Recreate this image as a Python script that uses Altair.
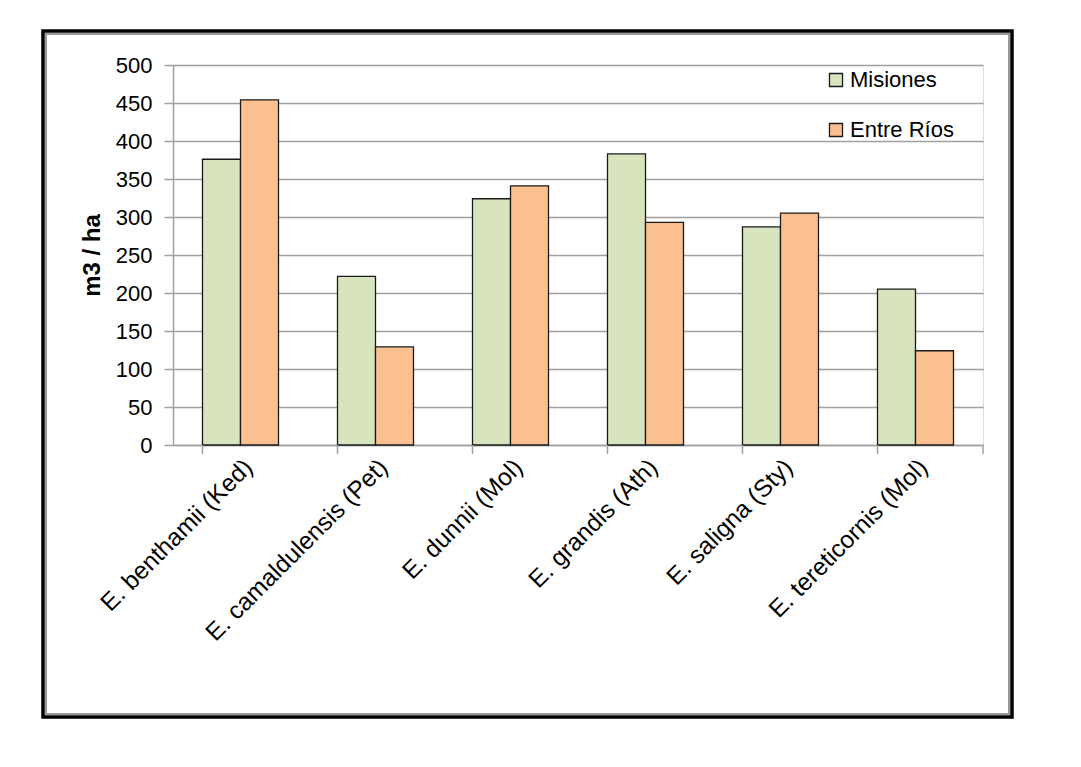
import altair as alt
import pandas as pd

categories = ["E. benthamii (Ked)", "E. camaldulensis (Pet)", "E. dunnii (Mol)",
              "E. grandis (Ath)", "E. saligna (Sty)", "E. tereticornis (Mol)"]
misiones = [376, 222, 324, 383, 287, 205]
entre_rios = [454, 129, 341, 293, 305, 124]
series = ["Misiones", "Entre Ríos"]
colors = ["#d7e4bd", "#fac090"]
y_ticks = [0, 50, 100, 150, 200, 250, 300, 350, 400, 450, 500]

rows = []
for c, m, e in zip(categories, misiones, entre_rios):
    rows.append({"especie": c, "serie": series[0], "valor": m})
    rows.append({"especie": c, "serie": series[1], "valor": e})
df = pd.DataFrame(rows)
cat_df = pd.DataFrame({"especie": categories})

FONT = "Liberation Sans"
W, H = 810, 380

xscale = alt.Scale(domain=categories, paddingInner=0.437, paddingOuter=0.2185)

bars = alt.Chart(df).mark_bar(stroke="#1a1a1a", strokeWidth=1.3).encode(
    x=alt.X("especie:N", sort=categories, scale=xscale,
            axis=alt.Axis(title=None, labelAngle=-45, labelFontSize=24.5, labelFont=FONT,
                          labelColor="#000000", ticks=False, domainColor="#a0a0a0",
                          domainWidth=1.5, labelPadding=10, labelLimit=400)),
    xOffset=alt.XOffset("serie:N", sort=series, scale=alt.Scale(paddingInner=0, paddingOuter=0)),
    y=alt.Y("valor:Q", scale=alt.Scale(domain=[0, 500], nice=False),
            axis=alt.Axis(values=y_ticks, title="m3 / ha", titleFont=FONT, titleFontSize=24,
                          titleFontWeight="bold", titleColor="#000000", titlePadding=11,
                          labelFont=FONT, labelFontSize=22, labelColor="#000000",
                          labelPadding=12, tickSize=9, tickColor="#a0a0a0", tickWidth=1.5,
                          domainColor="#a0a0a0", domainWidth=1.5,
                          gridColor="#a0a0a0", gridWidth=1.5)),
    color=alt.Color("serie:N", sort=series, scale=alt.Scale(domain=series, range=colors),
                    legend=alt.Legend(title=None, orient="none", legendX=652, legendY=4,
                                      symbolType="square", symbolSize=170,
                                      symbolStrokeColor="#1a1a1a", symbolStrokeWidth=1.3,
                                      labelFont=FONT, labelFontSize=22, labelColor="#000000",
                                      rowPadding=28, labelOffset=3)),
)

xticks = alt.Chart(cat_df).mark_rule(color="#a0a0a0", strokeWidth=1.5).encode(
    x=alt.X("especie:N", sort=categories, scale=xscale, bandPosition=0),
    y=alt.value(H), y2=alt.value(H + 9),
)
end_tick = alt.Chart(pd.DataFrame({"a": [0]})).mark_rule(color="#a0a0a0", strokeWidth=1.5).encode(
    x=alt.value(W), y=alt.value(H), y2=alt.value(H + 9),
)
frame_outer = alt.Chart(pd.DataFrame({"a": [0]})).mark_rect(
    fill=None, fillOpacity=0, stroke="#000000", strokeWidth=3.5).encode(
    x=alt.value(-130), x2=alt.value(839), y=alt.value(-34), y2=alt.value(652),
)
frame_inner = alt.Chart(pd.DataFrame({"a": [0]})).mark_rect(
    fill=None, fillOpacity=0, stroke="#9a9a9a", strokeWidth=2).encode(
    x=alt.value(-127), x2=alt.value(836), y=alt.value(-31), y2=alt.value(649),
)

chart = alt.layer(bars, xticks, end_tick, frame_outer, frame_inner).properties(
    width=W, height=H,
    autosize=alt.AutoSizeParams(type="none"),
    padding={"left": 165, "top": 57, "right": 90, "bottom": 300},
).configure_view(stroke=None).configure(background="#ffffff")

chart.save("out.html", embed_options={"renderer": "svg", "actions": False})
